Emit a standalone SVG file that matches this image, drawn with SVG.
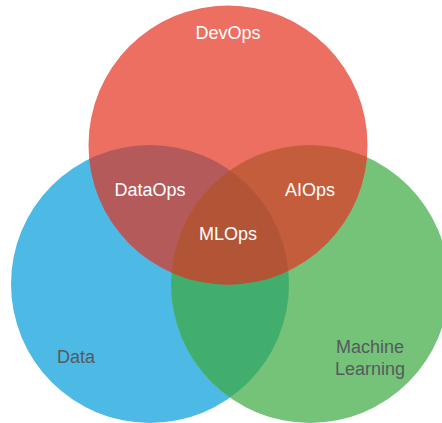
<svg xmlns="http://www.w3.org/2000/svg" width="442" height="423" viewBox="0 0 442 423">
<style>
.lbl{font-family:"Liberation Sans",Arial,sans-serif;font-size:18px;text-anchor:middle}
.w{fill:#ffffff}
.d{fill:#555a5e}
</style>
<defs>
<circle id="cR" cx="228" cy="145" r="139.5"/>
<circle id="cB" cx="150" cy="284" r="139"/>
<circle id="cG" cx="310" cy="284" r="139"/>
<clipPath id="clipR"><use href="#cR"/></clipPath>
<clipPath id="clipB"><use href="#cB"/></clipPath>
<clipPath id="clipG"><use href="#cG"/></clipPath>
</defs>
<g id="data">
<use href="#cB" fill="#4db9e5"/>
<text class="lbl d" x="76" y="363">Data</text>
</g>
<g id="ml">
<use href="#cG" fill="#74c378"/>
<text class="lbl d" x="370" y="353">Machine</text>
<text class="lbl d" x="370" y="375">Learning</text>
</g>
<g id="devops">
<use href="#cR" fill="#ec6f61"/>
<text class="lbl w" x="228" y="39">DevOps</text>
</g>
<g id="overlaps">
<g clip-path="url(#clipB)"><use href="#cG" fill="#41ae6e"/></g>
<g clip-path="url(#clipR)"><use href="#cB" fill="#b45a5b"/></g>
<g clip-path="url(#clipR)"><use href="#cG" fill="#c45d3b"/></g>
<g clip-path="url(#clipR)"><g clip-path="url(#clipB)"><use href="#cG" fill="#b25536"/></g></g>
</g>
<g id="dataops"><text class="lbl w" x="150" y="196">DataOps</text></g>
<g id="aiops"><text class="lbl w" x="310" y="196">AIOps</text></g>
<g id="mlops"><text class="lbl w" x="228" y="240">MLOps</text></g>
</svg>
